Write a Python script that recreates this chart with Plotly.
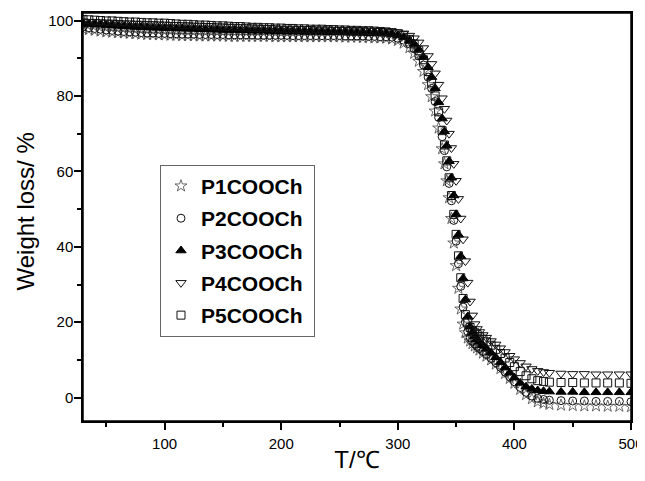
import plotly.graph_objects as go

# Temperature grid (°C)
T = [30, 35, 40, 45, 50, 55, 60, 65, 70, 75, 80, 85, 90, 95, 100, 105, 110, 115, 120, 125,
     130, 135, 140, 145, 150, 155, 160, 165, 170, 175, 180, 185, 190, 195, 200, 205, 210, 215,
     220, 225, 230, 235, 240, 245, 250, 255, 260, 265, 270, 275, 280, 285, 290,
     295, 300, 305, 310, 314, 318, 322, 326, 329, 332, 335, 338,
     340, 342, 344, 346, 348, 350, 352, 354, 356, 358, 360, 362, 364, 366, 368, 370,
     373, 376, 380, 384, 388, 392, 396, 400, 405, 410, 415, 420, 425, 430,
     440, 450, 460, 470, 480, 490, 500]

P1 = [97.8, 97.6, 97.4, 97.2, 97.0, 96.9, 96.8, 96.7, 96.6, 96.5, 96.4, 96.3, 96.3, 96.2, 96.2, 96.1, 96.1, 96.0, 96.0, 96.0,
      95.9, 95.9, 95.9, 95.9, 95.9, 95.8, 95.8, 95.8, 95.8, 95.8, 95.8, 95.8, 95.8, 95.7, 95.7, 95.7, 95.7, 95.7,
      95.7, 95.7, 95.7, 95.7, 95.7, 95.7, 95.7, 95.6, 95.6, 95.6, 95.5, 95.5, 95.4, 95.4, 95.3,
      95.1, 94.7, 94.0, 92.8, 91.3, 89.2, 86.5, 83.0, 79.8, 76.0, 71.5, 66.0,
      62.0, 57.5, 53.0, 47.5, 41.0, 35.0, 29.0, 23.5, 19.5, 17.2, 15.8, 15.0, 14.3, 13.7, 13.2, 12.6,
      11.8, 11.0, 10.0, 8.9, 7.7, 6.4, 5.1, 3.8, 2.2, 0.8, -0.3, -1.1, -1.5, -1.8,
      -2.0, -2.1, -2.2, -2.2, -2.3, -2.3, -2.4]

P2 = [98.3, 98.1, 97.9, 97.7, 97.5, 97.4, 97.2, 97.1, 97.0, 96.9, 96.8, 96.7, 96.7, 96.6, 96.6, 96.5, 96.5, 96.4, 96.4, 96.4,
      96.3, 96.3, 96.3, 96.3, 96.3, 96.2, 96.2, 96.2, 96.2, 96.2, 96.1, 96.1, 96.1, 96.1, 96.1, 96.1, 96.0, 96.0,
      96.0, 96.0, 96.0, 96.0, 96.0, 96.0, 96.0, 95.9, 95.9, 95.9, 95.9, 95.8, 95.8, 95.7, 95.7,
      95.6, 95.3, 94.8, 93.8, 92.5, 90.6, 88.2, 85.0, 82.0, 78.5, 74.3, 69.2,
      65.5, 61.2, 56.8, 52.2, 47.0, 41.5, 35.5, 29.5, 24.0, 20.0, 17.5, 16.0, 15.0, 14.2, 13.6, 13.0,
      12.2, 11.4, 10.4, 9.3, 8.1, 6.8, 5.5, 4.2, 2.7, 1.4, 0.4, -0.2, -0.5, -0.7,
      -0.8, -0.9, -0.9, -1.0, -1.0, -1.0, -1.1]

P3 = [99.2, 99.1, 99.0, 98.9, 98.8, 98.7, 98.6, 98.5, 98.4, 98.3, 98.3, 98.2, 98.1, 98.1, 98.0, 98.0, 97.9, 97.9, 97.8, 97.8,
      97.7, 97.7, 97.6, 97.6, 97.5, 97.5, 97.5, 97.4, 97.4, 97.3, 97.3, 97.3, 97.2, 97.2, 97.2, 97.1, 97.1, 97.1,
      97.0, 97.0, 97.0, 97.0, 96.9, 96.9, 96.9, 96.9, 96.8, 96.8, 96.8, 96.7, 96.7, 96.7, 96.6,
      96.4, 96.1, 95.6, 94.8, 93.8, 92.3, 90.3, 87.6, 85.0, 82.0, 78.3, 74.0,
      70.6, 66.8, 62.7, 58.3, 53.6, 48.6, 43.2, 37.5, 31.6, 26.0, 21.5, 18.8, 17.2, 16.2, 15.4, 14.8,
      13.9, 13.0, 11.9, 10.7, 9.4, 8.0, 6.6, 5.3, 3.9, 2.9, 2.3, 1.9, 1.7, 1.6,
      1.5, 1.5, 1.4, 1.4, 1.4, 1.4, 1.4]

P4 = [99.8, 99.7, 99.7, 99.6, 99.5, 99.5, 99.4, 99.3, 99.3, 99.2, 99.2, 99.1, 99.1, 99.0, 99.0, 98.9, 98.9, 98.8, 98.8, 98.7,
      98.7, 98.6, 98.6, 98.5, 98.5, 98.4, 98.4, 98.3, 98.3, 98.2, 98.2, 98.1, 98.1, 98.0, 97.9, 97.9, 97.9, 97.8,
      97.8, 97.8, 97.7, 97.7, 97.7, 97.6, 97.6, 97.6, 97.5, 97.5, 97.5, 97.4, 97.4, 97.3, 97.2,
      97.1, 96.9, 96.6, 96.0, 95.3, 94.2, 92.7, 90.6, 88.5, 86.0, 83.0, 79.4,
      76.6, 73.5, 70.0, 66.2, 62.0, 57.5, 52.7, 47.5, 42.0, 36.2, 30.5, 25.5, 21.8, 19.5, 18.2, 17.4,
      16.6, 15.9, 15.0, 14.1, 13.1, 12.1, 11.1, 10.2, 9.2, 8.3, 7.6, 7.1, 6.8, 6.6,
      6.4, 6.3, 6.3, 6.2, 6.2, 6.2, 6.2]

P5 = [100.3, 100.2, 100.1, 100.0, 99.9, 99.9, 99.8, 99.7, 99.6, 99.6, 99.5, 99.4, 99.4, 99.3, 99.3, 99.2, 99.1, 99.0, 99.0, 98.9,
      98.8, 98.8, 98.7, 98.6, 98.6, 98.5, 98.4, 98.4, 98.3, 98.2, 98.2, 98.1, 98.1, 98.0, 98.0, 97.9, 97.9, 97.8,
      97.8, 97.7, 97.7, 97.7, 97.6, 97.6, 97.5, 97.5, 97.4, 97.4, 97.3, 97.3, 97.2, 97.1, 97.0,
      96.8, 96.5, 96.0, 95.0, 93.8, 92.0, 89.6, 86.5, 83.5, 80.0, 75.8, 70.8,
      67.0, 62.8, 58.3, 53.6, 48.6, 43.3, 37.6, 31.8, 26.3, 22.0, 19.8, 18.6, 17.8, 17.2, 16.7, 16.2,
      15.5, 14.8, 13.9, 12.8, 11.7, 10.5, 9.3, 8.2, 6.9, 5.8, 5.0, 4.5, 4.3, 4.1,
      4.0, 4.0, 3.9, 3.9, 3.9, 3.9, 3.8]

names = ["P1COOCh", "P2COOCh", "P3COOCh", "P4COOCh", "P5COOCh"]
series = [P1, P2, P3, P4, P5]
symbols = ["star-open", "circle-open", "triangle-up", "triangle-down-open", "square-open"]
sizes = [9, 8, 9, 9, 8]
colors = ["#444444", "#111111", "#000000", "#111111", "#111111"]
lw = [0.8, 1, 1, 1, 1]

fig = go.Figure()
for i, (nm, ys) in enumerate(zip(names, series)):
    fig.add_trace(go.Scatter(
        x=T, y=ys, mode="markers", name=nm + "\u00a0", legendgroup=nm,
        marker=dict(symbol=symbols[i], size=sizes[i], color=colors[i],
                    line=dict(width=lw[i], color=colors[i])),
    ))

font_family = "Arial, Liberation Sans, sans-serif"
axis_common = dict(
    showgrid=False, zeroline=False, automargin=False,
    showline=True, linecolor="black", linewidth=1.5, mirror=True,
    ticks="outside", ticklen=7, tickwidth=1.5, tickcolor="black",
    tickfont=dict(size=15, color="black"),
    ticklabeloverflow="allow",
)
# The page body keeps its default 8px margin; the figure is offset by it and sized to end at the window edge.
fig.update_layout(
    width=637, height=465,
    margin=dict(l=75, r=14, t=5, b=52, autoexpand=False),
    paper_bgcolor="white", plot_bgcolor="white",
    font=dict(family=font_family, color="black", size=15),
    showlegend=True,
    legend=dict(
        x=0.1405, y=0.628, xanchor="left", yanchor="top",
        bordercolor="#666666", borderwidth=1, bgcolor="white",
        font=dict(family=font_family, size=21, color="black", weight="bold"),
        tracegroupgap=2, itemsizing="trace",
    ),
    xaxis=dict(
        range=[30, 500], tick0=0, dtick=100,
        minor=dict(dtick=50, tick0=0, ticks="outside", ticklen=4, tickwidth=1.5, tickcolor="black"),
        title=dict(text="T/℃", font=dict(size=24), standoff=10),
        ticklabelstandoff=1,
        **axis_common,
    ),
    yaxis=dict(
        range=[-6.2, 102], tick0=0, dtick=20,
        minor=dict(dtick=10, tick0=0, ticks="outside", ticklen=4, tickwidth=1.5, tickcolor="black"),
        ticklabelstandoff=-2,
        **axis_common,
    ),
    annotations=[dict(
        text="Weight loss/ %", textangle=-90, showarrow=False,
        xref="paper", yref="paper", x=0, y=0.5135,
        xanchor="center", yanchor="middle", xshift=-58,
        font=dict(family=font_family, size=24, color="black"),
    )],
    shapes=[dict(type="rect", xref="paper", yref="paper", x0=0, x1=1, y0=0, y1=1,
                 line=dict(color="black", width=1.5), layer="above")],
)

fig.write_html("out.html")
